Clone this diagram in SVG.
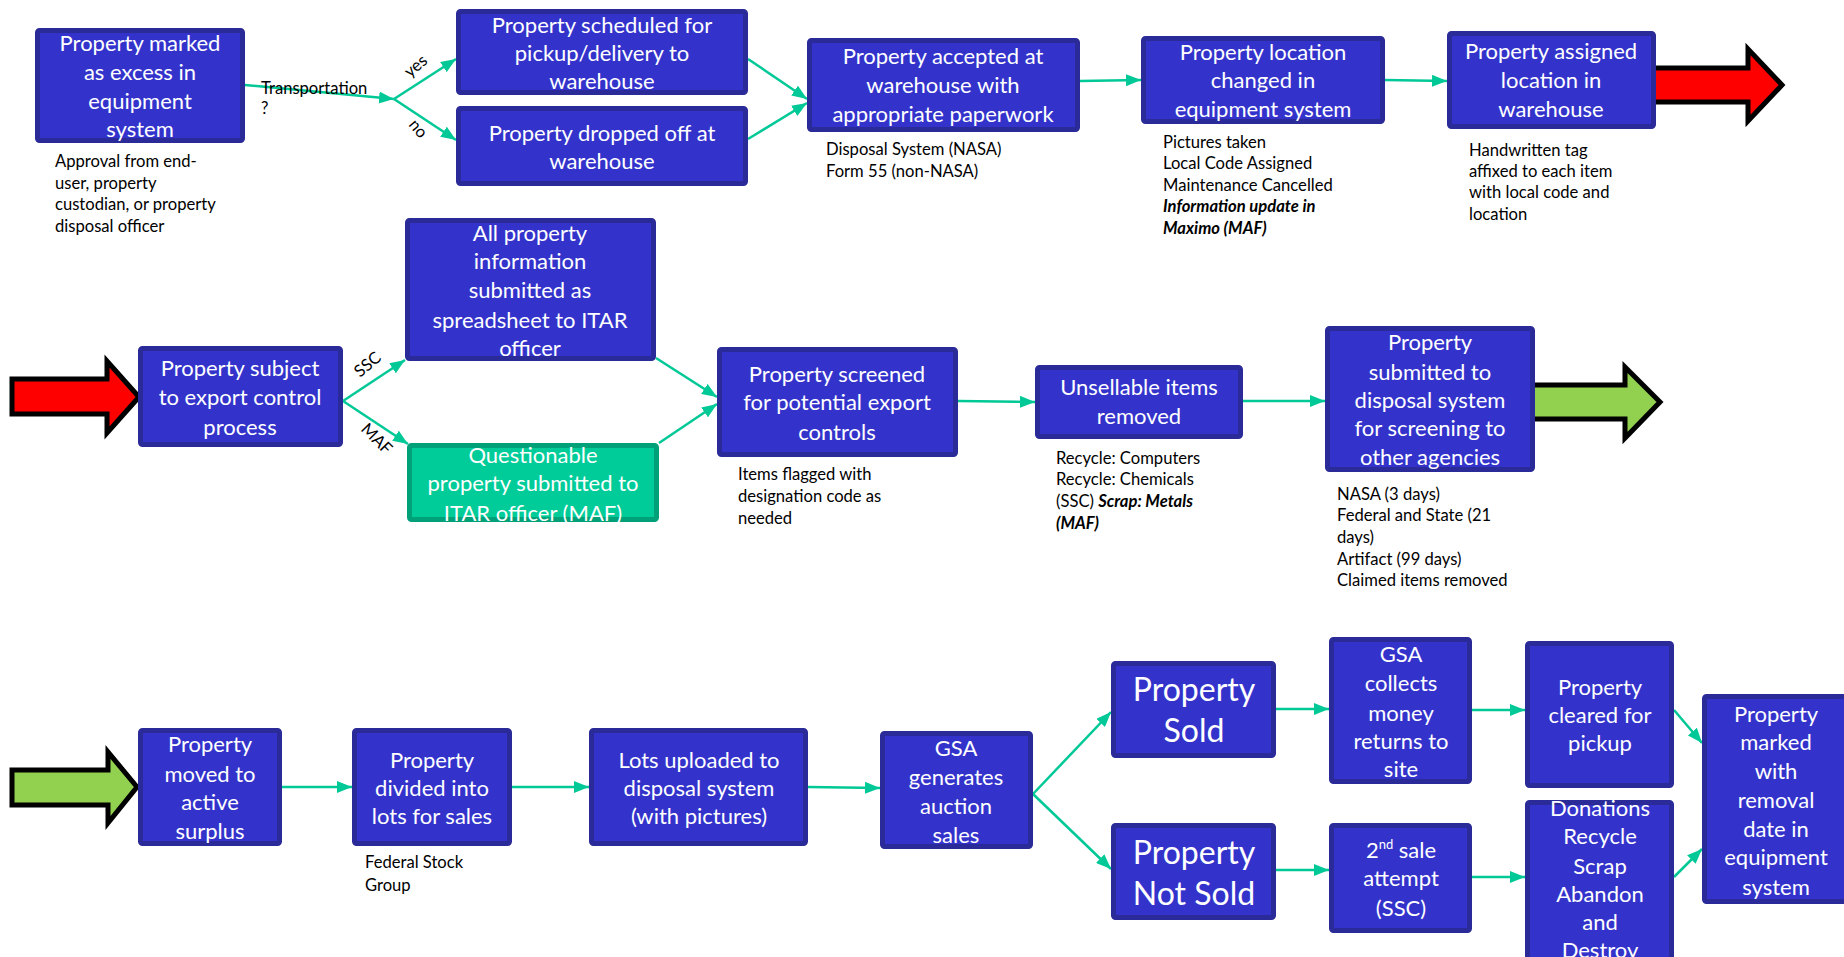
<svg xmlns="http://www.w3.org/2000/svg" width="1844" height="957" viewBox="0 0 1844 957">
<style>
.box{fill:#3333CC;stroke:#2A2A99;stroke-width:5}
.gbox{fill:#00CC99;stroke:#00A078;stroke-width:5}
.t{font-family:Lato,"Liberation Sans",sans-serif;font-size:22px;fill:#fff;text-anchor:middle}
.big{font-size:32px}
.n{font-family:Lato,"Liberation Sans",sans-serif;font-size:16.6px;fill:#000}
.bi{font-weight:bold;font-style:italic}
.c{stroke:#00C896;stroke-width:2.5;fill:none;marker-end:url(#ah)}
.blk{stroke:#000;stroke-width:5;stroke-linejoin:miter}
</style>
<defs>
<marker id="ah" markerUnits="userSpaceOnUse" markerWidth="16" markerHeight="12" refX="15" refY="6" orient="auto">
<path d="M0,0 L15,6 L0,12 z" fill="#00C896"/>
</marker>
</defs>
<rect width="1844" height="957" fill="#fff"/>

<g id="connectors">
<path class="c" d="M245,85 L394,99"/>
<path class="c" d="M394,99 L456,59"/>
<path class="c" d="M394,99 L456,140"/>
<path class="c" d="M748,59 L807,99"/>
<path class="c" d="M748,139 L807,103"/>
<path class="c" d="M1080,81 L1141,80"/>
<path class="c" d="M1385,80 L1447,81"/>
<path class="c" d="M343,401 L405,360"/>
<path class="c" d="M343,401 L408,444"/>
<path class="c" d="M656,358 L717,397"/>
<path class="c" d="M659,443 L717,404"/>
<path class="c" d="M958,401 L1035,402"/>
<path class="c" d="M1243,401 L1325,401"/>
<path class="c" d="M282,787 L352,787"/>
<path class="c" d="M512,787 L589,787"/>
<path class="c" d="M808,787 L880,788"/>
<path class="c" d="M1033,794 L1111,712"/>
<path class="c" d="M1033,794 L1111,869"/>
<path class="c" d="M1276,709 L1329,709"/>
<path class="c" d="M1276,870 L1329,870"/>
<path class="c" d="M1472,710 L1525,710"/>
<path class="c" d="M1472,877 L1525,877"/>
<path class="c" d="M1674,710 L1702,743"/>
<path class="c" d="M1674,877 L1702,849"/>
<text class="n" x="261" y="94">Transportation</text>
<text class="n" x="261" y="114">?</text>
<text class="n" transform="translate(410,78) rotate(-40)">yes</text>
<text class="n" transform="translate(408,125) rotate(50)">no</text>
<text class="n" transform="translate(360,378) rotate(-40)">SSC</text>
<text class="n" transform="translate(360,430) rotate(45)">MAF</text>
</g>

<g id="arrow-red-1"><polygon class="blk" fill="#FF0000" points="1653,68 1748,68 1748,49 1782,85 1748,121 1748,102 1653,102"/></g>
<g id="arrow-red-2"><polygon class="blk" fill="#FF0000" points="12,379 107,379 107,361 139,397 107,433 107,414 12,414"/></g>
<g id="arrow-green-1"><polygon class="blk" fill="#92D050" points="1532,385 1625,385 1625,367 1660,402 1625,438 1625,419 1532,419"/></g>
<g id="arrow-green-2"><polygon class="blk" fill="#92D050" points="12,770 108,770 108,752 137,787 108,823 108,805 12,805"/></g>

<g id="nodeA">
<rect class="box" x="37.5" y="30.5" width="205" height="110" rx="2"/>
<text class="t" x="140"><tspan x="140" y="51">Property marked</tspan><tspan x="140" y="80">as excess in</tspan><tspan x="140" y="109">equipment</tspan><tspan x="140" y="137">system</tspan></text>
<text class="n"><tspan x="55" y="167">Approval from end-</tspan><tspan x="55" y="189">user, property</tspan><tspan x="55" y="210">custodian, or property</tspan><tspan x="55" y="232">disposal officer</tspan></text>
</g>
<g id="nodeB">
<rect class="box" x="458.5" y="11.5" width="287" height="81" rx="2"/>
<text class="t"><tspan x="602" y="33">Property scheduled for</tspan><tspan x="602" y="61">pickup/delivery to</tspan><tspan x="602" y="89">warehouse</tspan></text>
</g>
<g id="nodeC">
<rect class="box" x="458.5" y="108.5" width="287" height="75" rx="2"/>
<text class="t"><tspan x="602" y="141">Property dropped off at</tspan><tspan x="602" y="169">warehouse</tspan></text>
</g>
<g id="nodeD">
<rect class="box" x="809.5" y="40.5" width="268" height="89" rx="2"/>
<text class="t"><tspan x="943" y="64">Property accepted at</tspan><tspan x="943" y="93">warehouse with</tspan><tspan x="943" y="122">appropriate paperwork</tspan></text>
<text class="n"><tspan x="826" y="155">Disposal System (NASA)</tspan><tspan x="826" y="177">Form 55 (non-NASA)</tspan></text>
</g>
<g id="nodeE">
<rect class="box" x="1143.5" y="38.5" width="239" height="83" rx="2"/>
<text class="t"><tspan x="1263" y="60">Property location</tspan><tspan x="1263" y="88">changed in</tspan><tspan x="1263" y="117">equipment system</tspan></text>
<text class="n"><tspan x="1163" y="148">Pictures taken</tspan><tspan x="1163" y="169">Local Code Assigned</tspan><tspan x="1163" y="191">Maintenance Cancelled</tspan><tspan class="bi" x="1163" y="212">Information update in</tspan><tspan class="bi" x="1163" y="234">Maximo (MAF)</tspan></text>
</g>
<g id="nodeF">
<rect class="box" x="1449.5" y="33.5" width="204" height="93" rx="2"/>
<text class="t"><tspan x="1551" y="59">Property assigned</tspan><tspan x="1551" y="88">location in</tspan><tspan x="1551" y="117">warehouse</tspan></text>
<text class="n"><tspan x="1469" y="156">Handwritten tag</tspan><tspan x="1469" y="177">affixed to each item</tspan><tspan x="1469" y="198">with local code and</tspan><tspan x="1469" y="220">location</tspan></text>
</g>

<g id="nodeG">
<rect class="box" x="140.5" y="348.5" width="200" height="96" rx="2"/>
<text class="t"><tspan x="240" y="376">Property subject</tspan><tspan x="240" y="405">to export control</tspan><tspan x="240" y="435">process</tspan></text>
</g>
<g id="nodeH">
<rect class="box" x="407.5" y="220.5" width="246" height="138" rx="2"/>
<text class="t"><tspan x="530" y="241">All property</tspan><tspan x="530" y="269">information</tspan><tspan x="530" y="298">submitted as</tspan><tspan x="530" y="328">spreadsheet to ITAR</tspan><tspan x="530" y="356">officer</tspan></text>
</g>
<g id="nodeI">
<rect class="gbox" x="409.5" y="445.5" width="247" height="74" rx="2"/>
<text class="t"><tspan x="533" y="463">Questionable</tspan><tspan x="533" y="491">property submitted to</tspan><tspan x="533" y="521">ITAR officer (MAF)</tspan></text>
</g>
<g id="nodeJ">
<rect class="box" x="719.5" y="349.5" width="236" height="105" rx="2"/>
<text class="t"><tspan x="837" y="382">Property screened</tspan><tspan x="837" y="410">for potential export</tspan><tspan x="837" y="440">controls</tspan></text>
<text class="n"><tspan x="738" y="480">Items flagged with</tspan><tspan x="738" y="502">designation code as</tspan><tspan x="738" y="524">needed</tspan></text>
</g>
<g id="nodeK">
<rect class="box" x="1037.5" y="367.5" width="203" height="69" rx="2"/>
<text class="t"><tspan x="1139" y="395">Unsellable items</tspan><tspan x="1139" y="424">removed</tspan></text>
<text class="n"><tspan x="1056" y="464">Recycle: Computers</tspan><tspan x="1056" y="485">Recycle: Chemicals</tspan><tspan x="1056" y="507">(SSC) <tspan class="bi">Scrap: Metals</tspan></tspan><tspan class="bi" x="1056" y="529">(MAF)</tspan></text>
</g>
<g id="nodeL">
<rect class="box" x="1327.5" y="328.5" width="205" height="141" rx="2"/>
<text class="t"><tspan x="1430" y="350">Property</tspan><tspan x="1430" y="380">submitted to</tspan><tspan x="1430" y="408">disposal system</tspan><tspan x="1430" y="436">for screening to</tspan><tspan x="1430" y="465">other agencies</tspan></text>
<text class="n"><tspan x="1337" y="500">NASA (3 days)</tspan><tspan x="1337" y="521">Federal and State (21</tspan><tspan x="1337" y="543">days)</tspan><tspan x="1337" y="565">Artifact (99 days)</tspan><tspan x="1337" y="586">Claimed items removed</tspan></text>
</g>

<g id="nodeM">
<rect class="box" x="140.5" y="730.5" width="139" height="113" rx="2"/>
<text class="t"><tspan x="210" y="752">Property</tspan><tspan x="210" y="782">moved to</tspan><tspan x="210" y="810">active</tspan><tspan x="210" y="839">surplus</tspan></text>
</g>
<g id="nodeN">
<rect class="box" x="354.5" y="730.5" width="155" height="113" rx="2"/>
<text class="t"><tspan x="432" y="768">Property</tspan><tspan x="432" y="796">divided into</tspan><tspan x="432" y="824">lots for sales</tspan></text>
<text class="n"><tspan x="365" y="868">Federal Stock</tspan><tspan x="365" y="891">Group</tspan></text>
</g>
<g id="nodeO">
<rect class="box" x="591.5" y="730.5" width="214" height="113" rx="2"/>
<text class="t"><tspan x="699" y="768">Lots uploaded to</tspan><tspan x="699" y="796">disposal system</tspan><tspan x="699" y="824">(with pictures)</tspan></text>
</g>
<g id="nodeP">
<rect class="box" x="882.5" y="733.5" width="148" height="113" rx="2"/>
<text class="t"><tspan x="956" y="756">GSA</tspan><tspan x="956" y="785">generates</tspan><tspan x="956" y="814">auction</tspan><tspan x="956" y="843">sales</tspan></text>
</g>
<g id="nodeQ">
<rect class="box" x="1113.5" y="663.5" width="160" height="92" rx="2"/>
<text class="t big"><tspan x="1194" y="701">Property</tspan><tspan x="1194" y="742">Sold</tspan></text>
</g>
<g id="nodeR">
<rect class="box" x="1113.5" y="825.5" width="160" height="92" rx="2"/>
<text class="t big"><tspan x="1194" y="864">Property</tspan><tspan x="1194" y="905">Not Sold</tspan></text>
</g>
<g id="nodeS">
<rect class="box" x="1331.5" y="639.5" width="138" height="142" rx="2"/>
<text class="t"><tspan x="1401" y="662">GSA</tspan><tspan x="1401" y="691">collects</tspan><tspan x="1401" y="721">money</tspan><tspan x="1401" y="749">returns to</tspan><tspan x="1401" y="777">site</tspan></text>
</g>
<g id="nodeT">
<rect class="box" x="1331.5" y="825.5" width="138" height="105" rx="2"/>
<text class="t"><tspan x="1401" y="858">2<tspan font-size="13" dy="-9">nd</tspan><tspan dy="9"> sale</tspan></tspan><tspan x="1401" y="886">attempt</tspan><tspan x="1401" y="916">(SSC)</tspan></text>
</g>
<g id="nodeU">
<rect class="box" x="1527.5" y="643.5" width="144" height="142" rx="2"/>
<text class="t"><tspan x="1600" y="695">Property</tspan><tspan x="1600" y="723">cleared for</tspan><tspan x="1600" y="751">pickup</tspan></text>
</g>
<g id="nodeV">
<rect class="box" x="1527.5" y="802.5" width="144" height="165" rx="2"/>
<text class="t"><tspan x="1600" y="816">Donations</tspan><tspan x="1600" y="844">Recycle</tspan><tspan x="1600" y="874">Scrap</tspan><tspan x="1600" y="902">Abandon</tspan><tspan x="1600" y="930">and</tspan><tspan x="1600" y="958">Destroy</tspan></text>
</g>
<g id="nodeW">
<rect class="box" x="1704.5" y="696.5" width="150" height="205" rx="2"/>
<text class="t"><tspan x="1776" y="722">Property</tspan><tspan x="1776" y="750">marked</tspan><tspan x="1776" y="779">with</tspan><tspan x="1776" y="808">removal</tspan><tspan x="1776" y="837">date in</tspan><tspan x="1776" y="865">equipment</tspan><tspan x="1776" y="895">system</tspan></text>
</g>
</svg>
